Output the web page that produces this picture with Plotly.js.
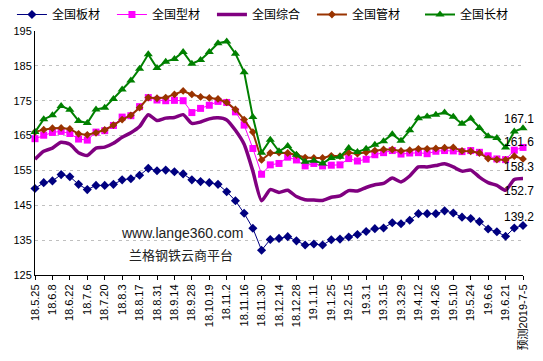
<!DOCTYPE html>
<html>
<head>
<meta charset="utf-8">
<script src="https://cdn.plot.ly/plotly-3.0.1.min.js"></script>
<style>html,body{margin:0;padding:0;background:#fff;}#chart{width:543px;height:361px;}</style>
</head>
<body>
<div id="chart"></div>
<script>
// Weekly categories (labels every other week)
const dates = ["18.5.25","18.6.1","18.6.8","18.6.15","18.6.22","18.6.29","18.7.6","18.7.13","18.7.20","18.7.27",
  "18.8.3","18.8.10","18.8.17","18.8.24","18.8.31","18.9.7","18.9.14","18.9.21","18.9.28","18.10.12",
  "18.10.19","18.10.26","18.11.2","18.11.9","18.11.16","18.11.23","18.11.30","18.12.7","18.12.14","18.12.21",
  "18.12.28","19.1.4","19.1.11","19.1.18","19.1.25","19.2.1","19.2.15","19.2.22","19.3.1","19.3.8",
  "19.3.15","19.3.22","19.3.29","19.4.4","19.4.12","19.4.19","19.4.26","19.5.5","19.5.10","19.5.17",
  "19.5.24","19.5.31","19.6.6","19.6.14","19.6.21","19.6.28","预测2019-7-5"];
const tickLabels = ["18.5.25","18.6.8","18.6.22","18.7.6","18.7.20","18.8.3","18.8.17","18.8.31","18.9.14","18.9.28",
  "18.10.19","18.11.2","18.11.16","18.11.30","18.12.14","18.12.28","19.1.11","19.1.25","19.2.15","19.3.1",
  "19.3.15","19.3.29","19.4.12","19.4.26","19.5.10","19.5.24","19.6.6","19.6.21","预测2019-7-5"];
const yTicks = [125,135,145,155,165,175,185,195];

const seriesNames = ["全国板材","全国型材","全国综合","全国管材","全国长材"];

const plate = [149.8,151.5,152.0,153.8,153.2,151.0,149.5,150.7,150.7,151.0,
  152.3,152.6,153.6,155.6,154.9,155.1,154.6,154.0,152.3,151.8,
  151.5,151.0,148.9,146.3,142.7,138.4,132.1,135.2,135.5,136.0,
  134.8,133.6,133.9,133.6,135.1,135.3,135.9,136.6,137.5,138.3,
  138.5,140.0,139.7,140.7,142.6,142.6,142.6,143.4,142.8,141.6,
  141.2,140.3,138.2,137.4,136.1,138.5,139.2];
const section = [164.1,165.1,165.9,166.2,165.6,164.0,163.7,166.0,166.4,167.9,
  170.3,170.7,173.3,175.9,175.2,175.0,175.1,175.0,171.6,172.8,
  173.7,174.8,174.5,171.8,168.0,161.3,153.9,156.6,157.0,158.8,
  158.0,156.3,157.0,156.3,156.5,156.6,158.4,157.7,158.2,159.5,
  160.1,160.7,159.7,160.0,160.1,159.8,160.5,160.7,160.6,160.4,
  160.7,160.2,159.2,158.3,158.1,160.8,161.6];
const composite = [158.2,160.5,161.4,163.1,162.5,160.1,159.3,161.4,161.7,162.8,
  164.5,165.8,167.6,171.0,169.3,170.0,170.2,171.0,168.5,168.9,
  169.8,170.1,169.5,166.5,162.5,154.8,146.3,149.5,148.7,149.3,
  147.5,146.6,146.5,146.4,147.3,147.7,149.2,149.1,150.1,150.9,
  151.3,152.8,151.7,153.4,156.0,156.0,156.4,156.9,156.0,154.8,
  155.1,153.1,151.5,150.7,149.3,152.4,152.7];
const pipe = [166.0,166.7,167.1,167.2,166.9,165.5,165.2,165.8,166.6,168.0,
  169.6,170.8,173.0,175.9,175.7,175.9,176.8,177.8,176.8,176.1,
  175.8,175.5,174.5,172.5,169.6,166.0,158.0,160.0,160.1,160.0,
  159.4,158.7,158.6,158.6,159.2,159.1,160.1,159.8,160.2,160.7,
  161.0,161.0,160.6,160.8,161.2,161.2,161.3,161.5,161.6,160.6,
  160.5,160.0,158.4,158.1,158.0,159.1,158.3];
const longp = [166.0,169.7,170.8,173.5,172.4,169.2,168.6,172.5,173.0,175.5,
  178.2,180.8,184.2,188.3,184.4,186.2,187.0,189.0,185.6,186.7,
  189.0,191.5,192.0,188.5,183.2,170.3,160.1,163.8,160.5,162.0,
  159.5,157.5,157.8,157.0,158.6,158.9,161.4,160.3,161.2,162.4,
  163.4,165.4,163.5,166.5,170.0,170.5,171.0,171.6,170.4,168.4,
  169.9,167.2,164.8,164.3,161.6,166.2,167.1];

const FONT = '"Liberation Sans", Arial, "Noto Sans CJK SC", sans-serif';
const CJK = '"Noto Sans CJK SC", "Liberation Sans", sans-serif';

const traces = [
  {name: seriesNames[0], y: plate, line:{color:'#000080', width:1}, marker:{symbol:'diamond', size:7, color:'#000080'}, mode:'lines+markers'},
  {name: seriesNames[1], y: section, line:{color:'#FF00FF', width:1}, marker:{symbol:'square', size:7, color:'#FF00FF'}, mode:'lines+markers'},
  {name: seriesNames[2], y: composite, line:{color:'#800080', width:3.5, shape:'spline', smoothing:0.6}, mode:'lines'},
  {name: seriesNames[3], y: pipe, line:{color:'#993300', width:2}, marker:{symbol:'diamond', size:6, color:'#993300'}, mode:'lines+markers'},
  {name: seriesNames[4], y: longp, line:{color:'#008000', width:2}, marker:{symbol:'triangle-up', size:8, color:'#008000'}, mode:'lines+markers', legend:'legend2'}
].map(t => Object.assign({type:'scatter', x: dates, cliponaxis:false}, t));

const lastCat = dates[dates.length-1];
const endSeries = [longp, section, pipe, composite, plate];
const endShift = [9, 5, -8, -13, 9];
const annotations = endSeries.map((s, k) => ({
  x: lastCat, y: s[s.length-1], xref:'x', yref:'y',
  text: s[s.length-1].toFixed(1), showarrow:false,
  xanchor:'center', yanchor:'middle', xshift:-4, yshift:endShift[k],
  font:{family:FONT, size:12, color:'#000'}
}));
annotations.push({xref:'paper', yref:'paper', x:0.301, y:0.172, text:'www.lange360.com', showarrow:false,
  xanchor:'center', yanchor:'middle', font:{family:FONT, size:14, color:'#222'}});
annotations.push({xref:'paper', yref:'paper', x:0.300, y:0.082, text:'兰格钢铁云商平台', showarrow:false,
  xanchor:'center', yanchor:'middle', font:{family:CJK, size:13, color:'#222'}});

const legendBase = {orientation:'h', xref:'container', yref:'container', xanchor:'left', y:1.0, yanchor:'top',
  entrywidth:55, entrywidthmode:'pixels', font:{family:CJK, size:12, color:'#000'},
  bgcolor:'rgba(0,0,0,0)', itemwidth:30, tracegroupgap:0};

const layout = {
  width:543, height:361,
  margin:{l:35, r:20, t:31, b:86, pad:0, autoexpand:false},
  paper_bgcolor:'#fff', plot_bgcolor:'#fff',
  font:{family:FONT, size:11, color:'#000'},
  showlegend:true,
  legend: Object.assign({}, legendBase, {x:0.022}),
  legend2: Object.assign({}, legendBase, {x:0.7735}),
  xaxis:{type:'category', categoryorder:'array', categoryarray:dates,
    range:[0, dates.length-1], tickmode:'array', tickvals:tickLabels, ticktext:tickLabels,
    tickangle:-90, ticks:'outside', ticklen:4, tickcolor:'#000', showline:true, linecolor:'#000', linewidth:1,
    showgrid:false, zeroline:false, tickfont:{family:FONT, size:11, color:'#000'}},
  yaxis:{range:[125,195], tickmode:'array', tickvals:yTicks, ticktext:yTicks.map(String),
    showline:true, linecolor:'#000', linewidth:1, ticks:'', showgrid:true, gridcolor:'#c0c0c0',
    griddash:'3px,4px', gridwidth:1, zeroline:false, tickfont:{family:FONT, size:11, color:'#000'}},
  annotations: annotations
};

Plotly.newPlot('chart', traces, layout, {displayModeBar:false, staticPlot:true});
</script>
</body>
</html>
